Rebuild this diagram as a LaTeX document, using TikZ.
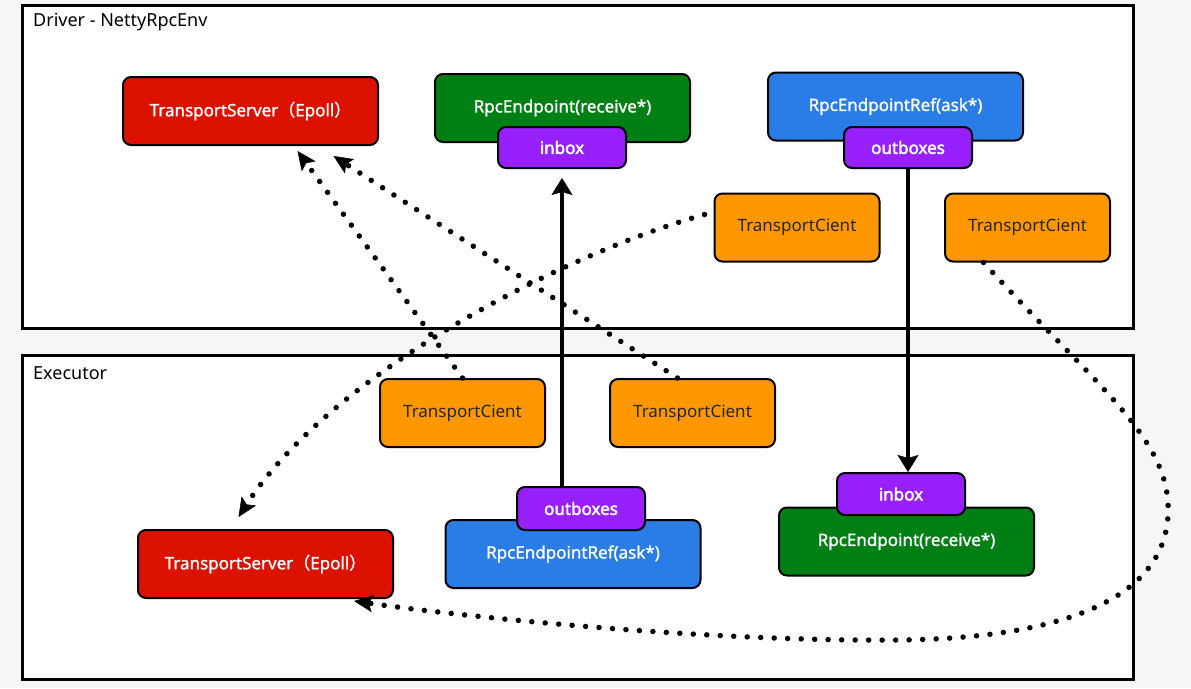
\documentclass[tikz,border=0pt]{standalone}
\usepackage{fontspec}
\setmainfont{Noto Sans}
\newfontfamily\medfont[FakeBold=1.3]{Noto Sans}
\newfontfamily\heavyfont[FakeBold=2.4]{Noto Sans}
\newfontfamily\cjk[FakeBold=1.3]{Noto Sans CJK SC}
\usetikzlibrary{arrows.meta,calc}
\definecolor{cred}{RGB}{221,17,0}
\definecolor{cgreen}{RGB}{0,128,20}
\definecolor{cblue}{RGB}{42,124,230}
\definecolor{cpurple}{RGB}{152,32,255}
\definecolor{corange}{RGB}{255,152,0}
\definecolor{bgc}{RGB}{246,246,246}
\begin{document}
\begin{tikzpicture}[x=1pt,y=-1pt,
  frame/.style={draw=black, line width=3pt, fill=white, inner sep=0pt},
  flabel/.style={anchor=west, inner sep=0pt, font=\fontsize{18}{20}\selectfont},
  box/.style={draw=black, line width=2pt, rounded corners=8pt, inner sep=0pt,
    minimum width=255pt, minimum height=68pt, text=white, font=\medfont\fontsize{17}{20}\selectfont},
  server/.style={box, fill=cred},
  endpoint/.style={box, fill=cgreen},
  epref/.style={box, fill=cblue},
  client/.style={box, fill=corange, text=black!85, minimum width=165pt, minimum height=68pt, font=\rmfamily\fontsize{17}{20}\selectfont},
  mailbox/.style={box, fill=cpurple, minimum width=128pt, minimum height=41pt, font=\heavyfont\fontsize{17}{20}\selectfont},
  solidarrow/.style={line width=4.5pt, -{Stealth[length=17pt,width=21pt,inset=3pt,line width=0.5pt]}},
  dotarrow/.style={line width=5.5pt, line cap=round, dash pattern=on 0pt off 13.5pt,
    -{Stealth[length=19pt,width=17pt,inset=4pt,line width=0.5pt]}}
]
\useasboundingbox (0,0) rectangle (1191,688);
\fill[bgc] (0,0) rectangle (1191,688);

% frames
\node[frame, minimum width=1111pt, minimum height=323pt] (driver) at (577.5,166.5) {};
\node[frame, minimum width=1111pt, minimum height=324pt] (executor) at (577.5,517) {};
\node[flabel] (dlabel) at (33,22) {Driver - NettyRpcEnv};
\node[flabel] (elabel) at (33,373) {Executor};

% driver nodes
\node[server] (tsD) at (250.5,111) {TransportServer{\cjk（}Epoll{\cjk）}};
\node[endpoint] (epD) at (562.5,108) {RpcEndpoint(receive*)};
\node[mailbox] (inD) at (562,147.5) {inbox};
\node[epref] (refD) at (895.5,106.5) {RpcEndpointRef(ask*)};
\node[mailbox] (outD) at (908,147.5) {outboxes};
\node[client] (tcD1) at (797,227.5) {TransportCient};
\node[client] (tcD2) at (1027.5,227.5) {TransportCient};

% executor nodes
\node[client] (tcE1) at (462.5,413) {TransportCient};
\node[client] (tcE2) at (692.5,413) {TransportCient};
\node[server] (tsE) at (265.5,564) {TransportServer{\cjk（}Epoll{\cjk）}};
\node[epref] (refE) at (573,554) {RpcEndpointRef(ask*)};
\node[mailbox, minimum height=43pt] (outE) at (581,508.5) {outboxes};
\node[endpoint] (epE) at (906.5,541.5) {RpcEndpoint(receive*)};
\node[mailbox, minimum height=42pt] (inE) at (901,494) {inbox};

% anchor points for dotted connectors
\coordinate (tipA) at ($(tsD.south)+(47,5)$);
\coordinate (tipB) at ($(tsD.south)+(83,10)$);
\coordinate (srcB) at ($(tcE2.north)+(-15,0)$);
\coordinate (srcC) at ($(tcD1.west)+(-9,-13)$);
\coordinate (tipC) at ($(tsE.north)+(-27,-12)$);
\coordinate (srcD) at ($(tcD2.south)+(-44,0)$);
\coordinate (tipD) at ($(tsE.south east)+(-40,2)$);

% solid arrows
\draw[solidarrow] (inD.south |- outE.north) -- ($(inD.south)+(0,9)$);
\draw[solidarrow] (outD.south) -- (outD.south |- inE.north);

% dotted arrows
\draw[dotarrow] (tcE1.north) -- (tipA);
\draw[dotarrow] (srcB) -- (tipB);
\draw[dotarrow] (srcC) .. controls (560,255) and (330,375) .. (tipC);
\draw[dotarrow] (srcD) .. controls (1100,390) and (1172,440) .. (1168,515)
  .. controls (1164,600) and (1060,638) .. (900,640)
  .. controls (700,642) and (450,615) .. (tipD);
\end{tikzpicture}
\end{document}
